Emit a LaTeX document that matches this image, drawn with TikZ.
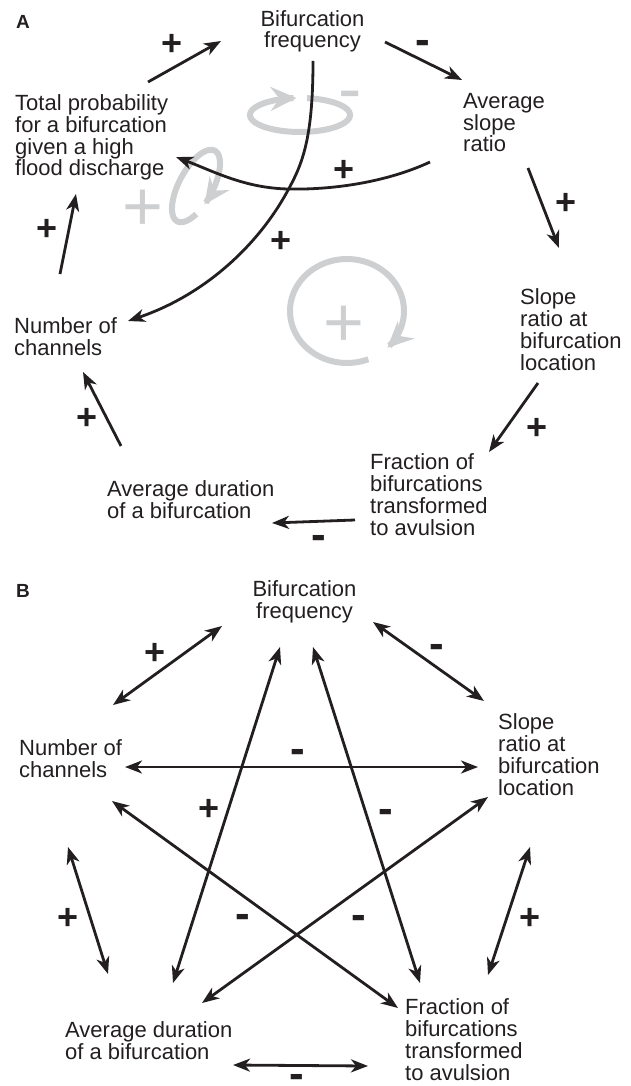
\documentclass[tikz,border=0pt]{standalone}
\usepackage{fontspec}
\setmainfont{Liberation Sans}
\usetikzlibrary{arrows.meta}
\definecolor{ink}{RGB}{35,31,32}
\definecolor{loopgrey}{RGB}{205,207,209}
\begin{document}
\begin{tikzpicture}[x=1pt,y=-1pt,
  lbl/.style={inner sep=0pt, align=left, anchor=base west, font=\fontsize{22}{21.7}\selectfont, text=ink},
  lblc/.style={lbl, align=center, anchor=base},
  panel/.style={inner sep=0pt, font=\fontsize{19}{19}\selectfont\bfseries, text=ink},
  plus/.style={inner sep=0pt, font=\fontsize{36}{36}\selectfont\bfseries, text=ink, yshift=-2pt},
  minus/.style={inner sep=0pt, font=\fontsize{44}{44}\selectfont\bfseries, text=ink, yshift=-4pt},
  gplus/.style={inner sep=0pt, font=\fontsize{70}{70}\selectfont, text=loopgrey, yshift=-4pt},
  gminus/.style={inner sep=0pt, font=\fontsize{70}{70}\selectfont, text=loopgrey, yshift=-6pt},
  arr/.style={draw=ink, line width=2.8pt, -{Stealth[length=17pt,width=13pt,inset=5pt]}},
  arrb/.style={draw=ink, line width=2.8pt, {Stealth[length=17pt,width=13pt,inset=5pt]}-{Stealth[length=17pt,width=13pt,inset=5pt]}},
  gloop/.style={draw=loopgrey, line width=6pt, -{Stealth[length=26pt,width=24pt,inset=9pt]}}
]
\useasboundingbox (0,0) rectangle (631,1086);

% ================= Panel A =================
\node[panel] (labA) at (23,22) {A};

% grey feedback loops (behind)
\draw[gloop] plot[domain=-82:266, samples=80, smooth] ({300+50*cos(\x)}, {115+17*sin(\x)});
\node[gminus] (gmA) at (350,96) {-};
\draw[gloop] plot[domain=128:468, samples=80, smooth]
  ({196 + 40*cos(\x)*0.469 + 17*sin(\x)*0.883}, {186 - 40*cos(\x)*0.883 + 17*sin(\x)*0.469});
\node[gplus] (gp1A) at (143,206) {+};
\draw[gloop] plot[domain=68:405, samples=90, smooth] ({347+57*cos(\x)}, {311+52*sin(\x)});
\node[gplus] (gp2A) at (344,322) {+};

% variables (anchored at the baseline of their last line)
\node[lblc] (bfA) at (312.5,48) {Bifurcation\\frequency};
\node[lbl] (asrA) at (463,152) {Average\\slope\\ratio};
\node[lbl] (srA) at (520,370) {Slope\\ratio at\\bifurcation\\location};
\node[lbl] (frA) at (370,535) {Fraction of\\bifurcations\\transformed\\to avulsion};
\node[lbl] (adA) at (107,518) {Average duration\\of a bifurcation};
\node[lbl] (ncA) at (14,355) {Number of\\channels};
\node[lbl] (tpA) at (15,176) {Total probability\\for a bifurcation\\given a high\\flood discharge};

% connector ends
\coordinate (a1s) at (148,82);  \coordinate (a1e) at (221,41);
\coordinate (a2s) at (385,42);  \coordinate (a2e) at (462,80);
\coordinate (a3s) at (528,168); \coordinate (a3e) at (559,248);
\coordinate (a4s) at (538,383); \coordinate (a4e) at (489,452);
\coordinate (a5s) at (355,520); \coordinate (a5e) at (272,523);
\coordinate (a6s) at (121,446); \coordinate (a6e) at (83,372);
\coordinate (a7s) at (60,274);  \coordinate (a7e) at (76,194);
\coordinate (a8s) at (430,162); \coordinate (a8e) at (176,157);
\coordinate (a9s) at (313,61);  \coordinate (a9e) at (128,321);

\draw[arr] (a1s) -- (a1e);
\draw[arr] (a2s) -- (a2e);
\draw[arr] (a3s) -- (a3e);
\draw[arr] (a4s) -- (a4e);
\draw[arr] (a5s) -- (a5e);
\draw[arr] (a6s) -- (a6e);
\draw[arr] (a7s) -- (a7e);
\draw[arr] (a8s) .. controls (385,183) and (330,190) .. (288,189) .. controls (245,188) and (215,172) .. (a8e);
\draw[arr] (a9s) .. controls (313,140) and (302,165) .. (287,192) .. controls (258,245) and (205,295) .. (a9e);

\node[plus] (p1) at (172,43) {+};
\node[minus] (p2) at (423,43) {-};
\node[plus] (p3) at (566,202) {+};
\node[plus] (p4) at (537,427) {+};
\node[minus] (p5) at (319,538) {-};
\node[plus] (p6) at (87,417) {+};
\node[plus] (p7) at (47,228) {+};
\node[plus] (p8) at (344,169) {+};
\node[plus] (p9) at (281,240) {+};

% ================= Panel B =================
\node[panel] (labB) at (23,591) {B};

\node[lblc] (bfB) at (304.5,618) {Bifurcation\\frequency};
\node[lbl] (ncB) at (19,777) {Number of\\channels};
\node[lbl] (srB) at (498,795) {Slope\\ratio at\\bifurcation\\location};
\node[lbl] (adB) at (65,1059) {Average duration\\of a bifurcation};
\node[lbl] (frB) at (405,1080) {Fraction of\\bifurcations\\transformed\\to avulsion};

\coordinate (b1s) at (113,705);  \coordinate (b1e) at (222,626);
\coordinate (b2s) at (373,622);  \coordinate (b2e) at (484,701);
\coordinate (b3s) at (125,767);  \coordinate (b3e) at (478,767);
\coordinate (b4s) at (173,983);  \coordinate (b4e) at (280,647);
\coordinate (b5s) at (313,647);  \coordinate (b5e) at (420,983);
\coordinate (b6s) at (202,1003); \coordinate (b6e) at (488,797);
\coordinate (b7s) at (112,801);  \coordinate (b7e) at (398,1008);
\coordinate (b8s) at (68,847);   \coordinate (b8e) at (108,974);
\coordinate (b9s) at (530,847);  \coordinate (b9e) at (488,975);
\coordinate (b10s) at (233,1065); \coordinate (b10e) at (368,1066);

\draw[arrb] (b1s) -- (b1e);
\draw[arrb] (b2s) -- (b2e);
\draw[arrb] (b3s) -- (b3e);
\draw[arrb] (b4s) -- (b4e);
\draw[arrb] (b5s) -- (b5e);
\draw[arrb] (b6s) -- (b6e);
\draw[arrb] (b7s) -- (b7e);
\draw[arrb] (b8s) -- (b8e);
\draw[arrb] (b9s) -- (b9e);
\draw[arrb] (b10s) -- (b10e);

\node[plus] (q1) at (155,652) {+};
\node[minus] (q2) at (437,647) {-};
\node[minus] (q3) at (298,752) {-};
\node[plus] (q4) at (209,808) {+};
\node[minus] (q5) at (386,812) {-};
\node[minus] (q6) at (243,917) {-};
\node[minus] (q7) at (359,918) {-};
\node[plus] (q8) at (68,917) {+};
\node[plus] (q9) at (530,917) {+};
\node[minus] (q10) at (297,1077) {-};
\end{tikzpicture}
\end{document}
